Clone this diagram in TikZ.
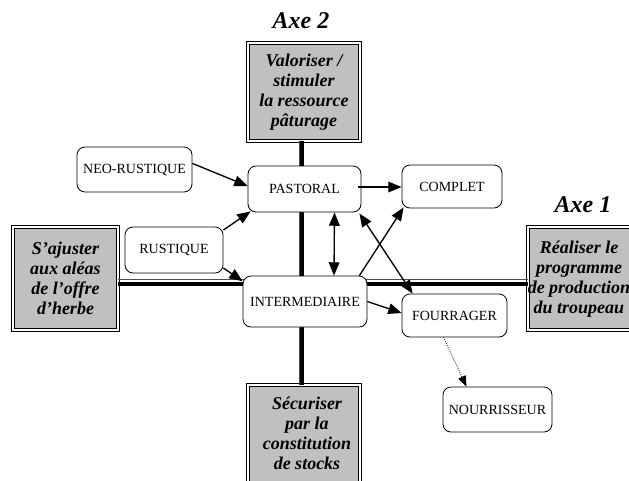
\documentclass[tikz,border=0pt]{standalone}
\usepackage{fontspec}
\setmainfont{Liberation Serif}
\usetikzlibrary{arrows.meta,calc}
\definecolor{boxgray}{RGB}{192,192,192}
\begin{document}
\begin{tikzpicture}[x=0.75pt,y=-0.75pt,
  sz/.style 2 args={minimum width=#1*0.75pt, minimum height=#2*0.75pt},
  state/.style={draw=black, line width=0.6pt, rounded corners=6pt, fill=white,
    inner sep=0pt, font=\fontsize{10.5}{12}\selectfont},
  axebox/.style={draw=black, line width=0.6pt, double=white, double distance=1.2pt,
    fill=boxgray, inner sep=0pt},
  axetext/.style={align=center, font=\fontsize{13.5}{15}\bfseries\itshape\selectfont},
  axelabel/.style={font=\fontsize{18}{20}\bfseries\itshape\selectfont},
  link/.style={line width=1pt, -{Triangle[length=10pt,width=8pt]}},
  biLink/.style={line width=1pt, {Triangle[length=10pt,width=8pt]}-{Triangle[length=10pt,width=8pt]}},
  axisthick/.style={line width=2.8pt, black},
  axisthin/.style={line width=0.5pt, black!70},
]
\useasboundingbox (0,0) rectangle (629,480);
\clip (0,0) rectangle (629,480);

% axis boxes
\node[axebox, sz={112}{98}] (top) at (304,92) {};
\node[axebox, sz={105}{103}] (left) at (65.5,278.5) {};
\node[axebox, sz={112}{103}] (right) at (584,278.5) {};
\node[axebox, sz={112}{110}] (bottom) at (304,440) {};

% the two axes
\draw[axisthin] (299,141) -- (299,385);
\draw[axisthick] (302,141) -- (302,385);
\draw[axisthin] (118,279.5) -- (528,279.5);
\draw[axisthick] (118,284) -- (528,284);

\node[axetext] (topt) at (top) {Valoriser /\\stimuler\\la ressource\\pâturage};
\node[axetext] (leftt) at (65.5,278) {S’ajuster\\aux aléas\\de l’offre\\d’herbe};
\node[axetext] (rightt) at (579,279) {Réaliser le\\programme\\de production\\du troupeau};
\node[axetext] (bottomt) at (307,433) {Sécuriser\\par la\\constitution\\de stocks};

\node[axelabel] (axe2) at (301,21) {Axe 2};
\node[axelabel] (axe1) at (583,205) {Axe 1};

% farm types
\node[state, sz={115}{45}] (neo) at (134.5,169.5) {NEO-RUSTIQUE};
\node[state, sz={113}{46}] (past) at (304.5,189) {PASTORAL};
\node[state, sz={100}{43}] (comp) at (452,186.5) {COMPLET};
\node[state, sz={98}{46}] (rust) at (174,250) {RUSTIQUE};
\node[state, sz={124}{51}] (inter) at (305,301.5) {INTERMEDIAIRE};
\node[state, sz={105}{43}] (fourr) at (454.5,315.5) {FOURRAGER};
\node[state, sz={109}{45}] (nourr) at (497.5,409.5) {NOURRISSEUR};

% links between types
\draw[link] (neo.6) -- (past.177);
\draw[link] (rust.22) -- ($(past.south west)+(3,-1)$);
\draw[link] (rust.-20) -- (inter.162);
\draw[link] ($(past.east)+(-3,-2)$) -- ($(comp.west)+(0,0.5)$);
\draw[biLink] ($(past.south)+(30,0)$) -- ($(inter.north)+(29,0)$);
\draw[link] ($(inter.north east)+(-8,0)$) -- ($(comp.south west)+(2,-1)$);
\draw[biLink] ($(past.south east)+(-2,1)$) -- ($(fourr.north west)+(11,0)$);
\draw[link] (inter.east) -- ($(fourr.west)+(0,-2.5)$);
\draw[line width=0.6pt, densely dotted, -{Triangle[length=8pt,width=6pt]}]
  ($(fourr.south)+(-11,0)$) -- ($(nourr.north)+(-31,0)$);
\end{tikzpicture}
\end{document}
